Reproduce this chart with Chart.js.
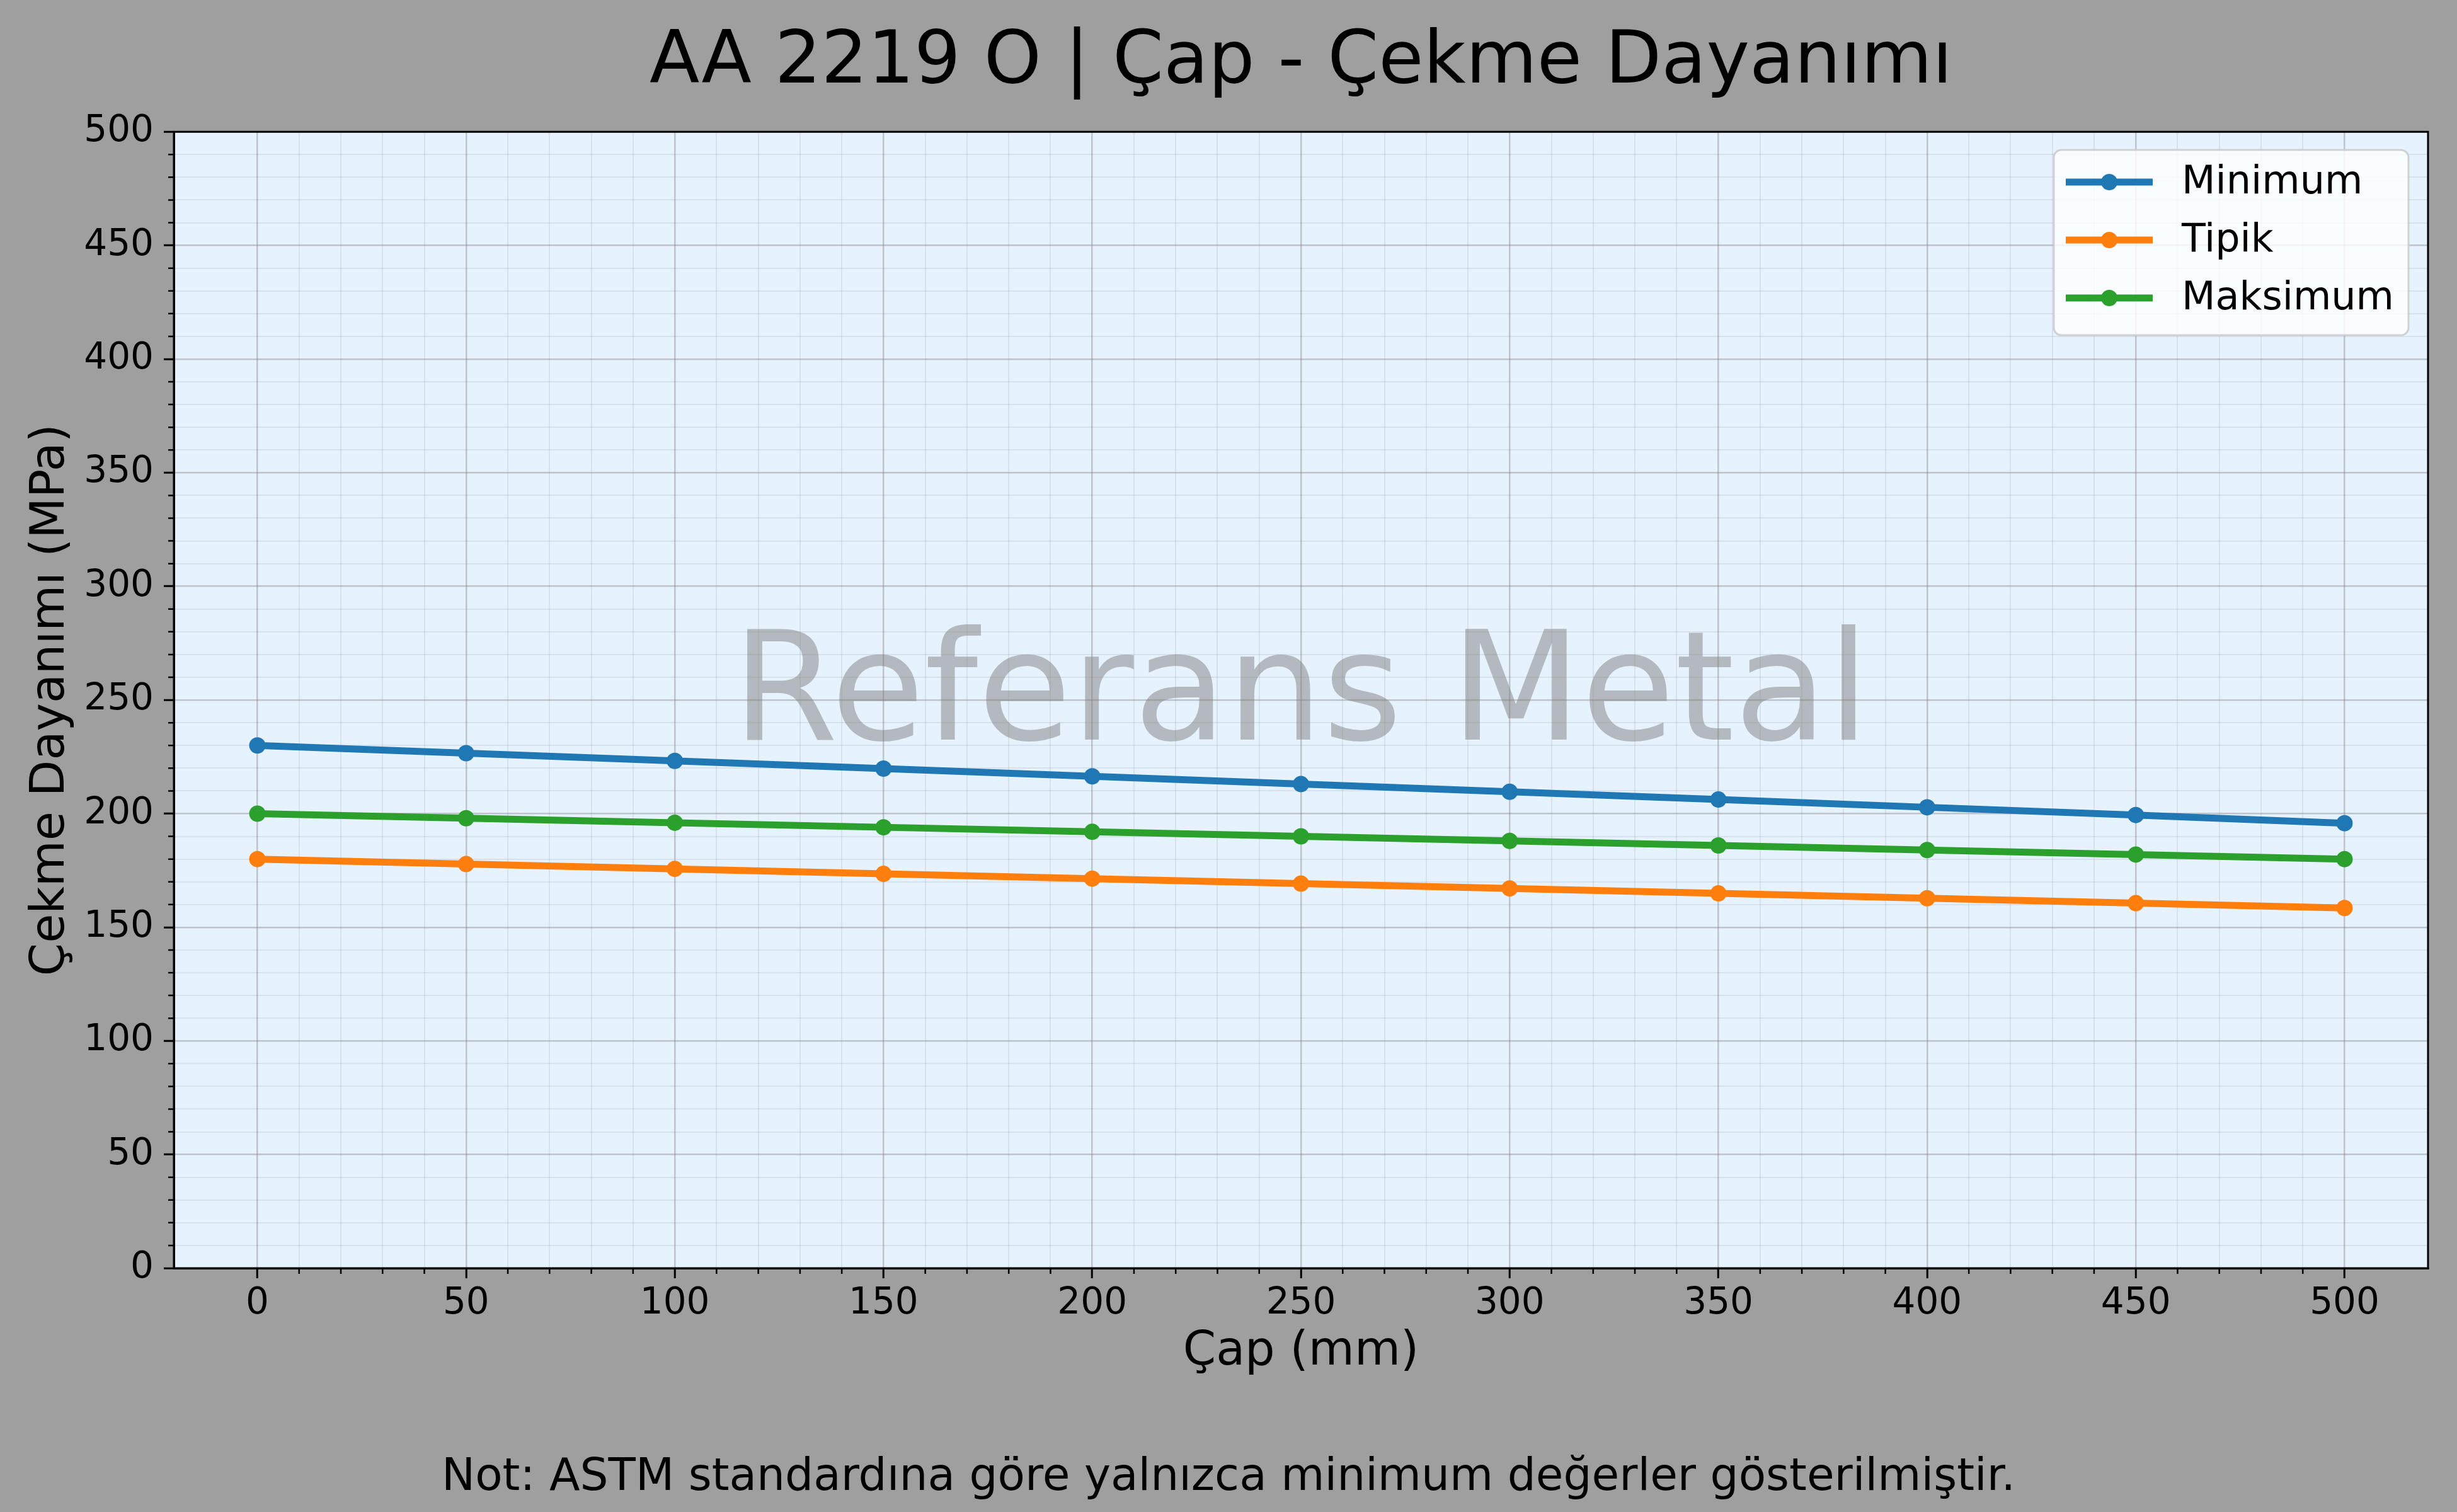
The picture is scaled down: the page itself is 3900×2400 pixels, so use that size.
<!DOCTYPE html>
<html>
<head>
<meta charset="utf-8">
<script src="https://cdn.jsdelivr.net/npm/chart.js@4.4.1/dist/chart.umd.min.js"></script>
<style>
  html, body { margin: 0; padding: 0; background: #9f9f9f; }
  canvas { display: block; }
</style>
</head>
<body>
<canvas id="grafik" width="3900" height="2400" style="width:3900px;height:2400px"></canvas>
<script>
// veriler
const caplar = [0, 50, 100, 150, 200, 250, 300, 350, 400, 450, 500];
const minimum = [230, 226.6, 223.2, 219.8, 216.4, 213, 209.6, 206.2, 202.8, 199.4, 195.8];
const tipik = [180, 177.8, 175.7, 173.5, 171.4, 169.2, 167.1, 164.9, 162.8, 160.6, 158.5];
const maksimum = [200, 198, 196, 194, 192, 190, 188, 186, 184, 182, 180];
const seriAdlari = ['Minimum', 'Tipik', 'Maksimum'];
const renkler = ['#1f77b4', '#ff7f0e', '#2ca02c'];

const FONT = "'DejaVu Sans', 'Noto Sans', sans-serif";

function noktalar(degerler) {
  return caplar.map((c, i) => ({ x: c, y: degerler[i] }));
}

const seriler = [minimum, tipik, maksimum].map((d, i) => ({
  label: seriAdlari[i],
  data: noktalar(d),
  borderColor: renkler[i],
  backgroundColor: renkler[i],
  borderWidth: 11,
  pointRadius: 13,
  pointHoverRadius: 13,
  pointBorderWidth: 0,
  tension: 0
}));

// arka plan: figur gri, eksen alani acik mavi
const arkaPlan = {
  id: 'arkaPlan',
  beforeDraw(chart) {
    const { ctx, chartArea: a } = chart;
    ctx.save();
    ctx.fillStyle = '#9f9f9f';
    ctx.fillRect(0, 0, chart.width, chart.height);
    ctx.fillStyle = '#e6f2fe';
    ctx.fillRect(a.left, a.top, a.right - a.left, a.bottom - a.top);
    ctx.restore();
  }
};

// filigran
const filigran = {
  id: 'filigran',
  beforeDatasetsDraw(chart) {
    const { ctx, chartArea: a } = chart;
    ctx.save();
    ctx.font = '241px ' + FONT;
    ctx.fillStyle = 'rgba(128,128,128,0.5)';
    ctx.textAlign = 'center';
    ctx.textBaseline = 'alphabetic';
    ctx.fillText('Referans Metal', (a.left + a.right) / 2, 1174);
    ctx.restore();
  }
};

// cerceve, kucuk tikler, lejant ve not
const cerceve = {
  id: 'cerceve',
  afterDraw(chart) {
    const { ctx, chartArea: a, scales } = chart;
    ctx.save();
    ctx.strokeStyle = '#000';
    ctx.lineWidth = 2.5;
    ctx.beginPath();
    scales.x.ticks.forEach(t => {
      if (t.value % 50 !== 0) {
        const px = scales.x.getPixelForValue(t.value);
        ctx.moveTo(px, a.bottom);
        ctx.lineTo(px, a.bottom + 9);
      }
    });
    scales.y.ticks.forEach(t => {
      if (t.value % 50 !== 0) {
        const py = scales.y.getPixelForValue(t.value);
        ctx.moveTo(a.left, py);
        ctx.lineTo(a.left - 9, py);
      }
    });
    ctx.stroke();

    ctx.lineWidth = 3;
    ctx.strokeRect(a.left, a.top, a.right - a.left, a.bottom - a.top);

    // lejant
    const lx = 3260, ly = 238, lw = 563, lh = 294;
    ctx.beginPath();
    ctx.roundRect(lx, ly, lw, lh, 12);
    ctx.fillStyle = 'rgba(255,255,255,0.8)';
    ctx.fill();
    ctx.strokeStyle = 'rgba(204,204,204,0.9)';
    ctx.lineWidth = 3;
    ctx.stroke();
    ctx.font = '62px ' + FONT;
    ctx.textBaseline = 'middle';
    ctx.textAlign = 'left';
    chart.data.datasets.forEach((ds, i) => {
      const yy = 289 + i * 92;
      ctx.strokeStyle = ds.borderColor;
      ctx.lineWidth = 11;
      ctx.beginPath();
      ctx.moveTo(3279, yy);
      ctx.lineTo(3417, yy);
      ctx.stroke();
      ctx.fillStyle = ds.backgroundColor;
      ctx.beginPath();
      ctx.arc(3348, yy, 13, 0, Math.PI * 2);
      ctx.fill();
      ctx.fillStyle = '#000';
      ctx.fillText(ds.label, 3463, yy + 2);
    });

    // alt not
    ctx.font = '71px ' + FONT;
    ctx.textAlign = 'center';
    ctx.textBaseline = 'alphabetic';
    ctx.fillStyle = '#000';
    ctx.fillText('Not: ASTM standardına göre yalnızca minimum değerler gösterilmiştir.', 1950, 2365);
    ctx.restore();
  }
};

function izgaraRengi(c) {
  return c.tick && c.tick.value % 50 === 0 ? 'rgba(128,128,128,0.4)' : 'rgba(128,128,128,0.15)';
}

new Chart(document.getElementById('grafik').getContext('2d'), {
  type: 'line',
  data: { datasets: seriler },
  options: {
    responsive: false,
    devicePixelRatio: 1,
    animation: false,
    layout: { padding: { left: 0, top: 0, right: 46, bottom: 0 } },
    plugins: {
      legend: { display: false },
      tooltip: { enabled: false },
      title: {
        display: true,
        fullSize: false,
        text: 'AA 2219 O | Çap - Çekme Dayanımı',
        color: '#000',
        font: { family: FONT, size: 116, weight: 'normal' },
        padding: { top: 31, bottom: 39 }
      }
    },
    scales: {
      x: {
        type: 'linear',
        min: -20,
        max: 520,
        afterBuildTicks: s => { s.ticks = s.ticks.filter(t => t.value >= 0 && t.value <= 500); },
        afterFit: s => { s.height = 387; },
        ticks: {
          stepSize: 10,
          autoSkip: false,
          maxRotation: 0,
          color: '#000',
          padding: 6,
          font: { family: FONT, size: 58 },
          callback: v => (v % 50 === 0 ? String(v) : '')
        },
        grid: {
          color: izgaraRengi,
          lineWidth: c => (c.tick && c.tick.value % 50 === 0 ? 2.5 : 2),
          tickColor: c => (c.tick && c.tick.value % 50 === 0 ? '#000' : 'rgba(0,0,0,0)'),
          tickLength: 16,
          tickWidth: 3
        },
        border: { display: true, color: '#000', width: 3 },
        title: {
          display: true,
          text: 'Çap (mm)',
          color: '#000',
          font: { family: FONT, size: 75 },
          padding: { top: 0, bottom: 208 }
        }
      },
      y: {
        type: 'linear',
        min: 0,
        max: 500,
        afterFit: s => { s.width = 276; },
        ticks: {
          stepSize: 10,
          autoSkip: false,
          maxTicksLimit: 100,
          color: '#000',
          padding: 16,
          font: { family: FONT, size: 58 },
          callback: v => (v % 50 === 0 ? String(v) : '')
        },
        grid: {
          color: izgaraRengi,
          lineWidth: c => (c.tick && c.tick.value % 50 === 0 ? 2.5 : 2),
          tickColor: c => (c.tick && c.tick.value % 50 === 0 ? '#000' : 'rgba(0,0,0,0)'),
          tickLength: 16,
          tickWidth: 3
        },
        border: { display: true, color: '#000', width: 3 },
        title: {
          display: true,
          text: 'Çekme Dayanımı (MPa)',
          color: '#000',
          font: { family: FONT, size: 75 },
          padding: { top: 37, bottom: 0 }
        }
      }
    }
  },
  plugins: [arkaPlan, filigran, cerceve]
});
</script>
</body>
</html>
